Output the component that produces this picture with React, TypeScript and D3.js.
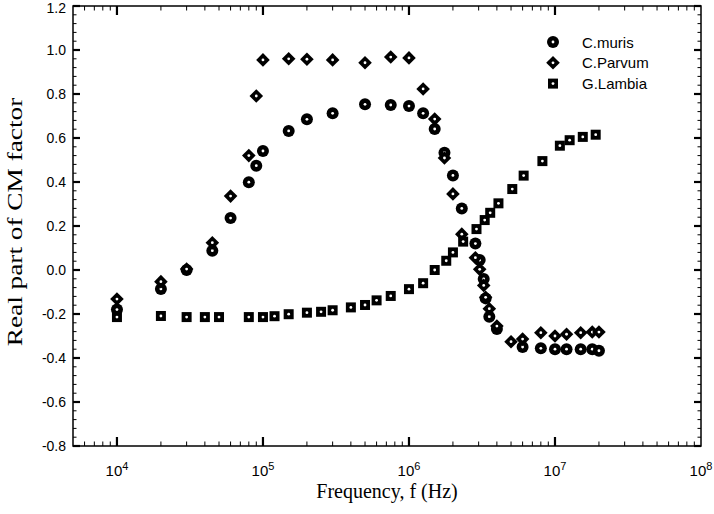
import React from "react";
import * as d3 from "d3";

const murisF = [1e4, 2e4, 3e4, 4.5e4, 6e4, 8e4, 9e4, 1e5, 1.5e5, 2e5, 3e5, 5e5, 7.5e5, 1e6, 1.25e6, 1.5e6, 1.75e6, 2e6, 2.3e6, 2.85e6, 3.05e6, 3.25e6, 3.35e6, 3.55e6, 4e6, 6e6, 8e6, 1e7, 1.2e7, 1.5e7, 1.8e7, 2e7];
const murisV = [-0.18, -0.086, 0.0, 0.088, 0.236, 0.399, 0.474, 0.541, 0.632, 0.685, 0.712, 0.753, 0.75, 0.745, 0.712, 0.641, 0.533, 0.43, 0.28, 0.12, 0.045, -0.041, -0.129, -0.212, -0.268, -0.35, -0.356, -0.36, -0.36, -0.36, -0.36, -0.367];

const parvumF = [1e4, 2e4, 3e4, 4.5e4, 6e4, 8e4, 9e4, 1e5, 1.5e5, 2e5, 3e5, 5e5, 7.5e5, 1e6, 1.25e6, 1.5e6, 1.75e6, 2e6, 2.3e6, 2.85e6, 3.05e6, 3.25e6, 3.35e6, 3.55e6, 4e6, 5e6, 6e6, 8e6, 1e7, 1.2e7, 1.5e7, 1.8e7, 2e7];
const parvumV = [-0.132, -0.053, 0.004, 0.124, 0.336, 0.52, 0.791, 0.955, 0.96, 0.958, 0.955, 0.942, 0.968, 0.964, 0.823, 0.686, 0.509, 0.346, 0.163, 0.056, 0.003, -0.07, -0.124, -0.176, -0.255, -0.326, -0.314, -0.285, -0.3, -0.292, -0.285, -0.282, -0.282];

const lambiaF = [1e4, 2e4, 3e4, 4e4, 5e4, 8e4, 1e5, 1.2e5, 1.5e5, 2e5, 2.5e5, 3e5, 4e5, 5e5, 6e5, 7.5e5, 1e6, 1.25e6, 1.5e6, 1.8e6, 2e6, 2.35e6, 2.9e6, 3.3e6, 3.6e6, 4.1e6, 5.1e6, 6.1e6, 8.2e6, 1.08e7, 1.26e7, 1.55e7, 1.9e7];
const lambiaV = [-0.214, -0.209, -0.214, -0.214, -0.214, -0.214, -0.214, -0.21, -0.201, -0.194, -0.19, -0.183, -0.17, -0.159, -0.138, -0.118, -0.087, -0.06, 0.0, 0.042, 0.08, 0.129, 0.186, 0.227, 0.26, 0.303, 0.368, 0.429, 0.495, 0.565, 0.59, 0.605, 0.615];

const seriesNames = ["C.muris", "C.Parvum", "G.Lambia"];
const yTicks = [1.2, 1.0, 0.8, 0.6, 0.4, 0.2, 0.0, -0.2, -0.4, -0.6, -0.8];
const xDecades = [4, 5, 6, 7, 8];

const W = 714, H = 514;
const L = 73, R = 701, T = 6, B = 446;

function Marker({ kind, x, y }: { kind: number; x: number; y: number }) {
  let shape: React.ReactNode;
  if (kind === 0) shape = <circle cx={x} cy={y} r={6} fill="#000" />;
  else if (kind === 1)
    shape = <path d={`M${x},${y - 6.8}L${x + 6.8},${y}L${x},${y + 6.8}L${x - 6.8},${y}Z`} fill="#000" />;
  else shape = <rect x={x - 5} y={y - 5} width={10} height={10} fill="#000" />;
  return (
    <g>
      {shape}
      <circle cx={x} cy={y} r={1.4} fill="#fff" />
    </g>
  );
}

export default function App() {
  const x = d3.scaleLog().domain([5000, 1e8]).range([L, R]);
  const y = d3.scaleLinear().domain([-0.8, 1.2]).range([B, T]);

  const minorX: number[] = [];
  for (let d = 3; d < 8; d++) {
    for (let k = 2; k <= 9; k++) {
      const v = k * Math.pow(10, d);
      if (v > 5000 && v < 1e8) minorX.push(v);
    }
  }
  const majorX = [1e4, 1e5, 1e6, 1e7];
  const minorY: number[] = d3.range(0, 51).map((i) => -0.8 + i * 0.04).filter((v, i) => i % 5 !== 0);

  const data = [
    { f: murisF, v: murisV },
    { f: parvumF, v: parvumV },
    { f: lambiaF, v: lambiaV },
  ];

  const sans = "Liberation Sans, Arial, sans-serif";
  const serif = "Liberation Serif, Times New Roman, serif";

  return (
    <svg width={W} height={H} style={{ position: "absolute", left: 0, top: 0, background: "#fff" }}>
      <rect x={0} y={0} width={W} height={H} fill="#fff" />
      {minorX.map((v, i) => (
        <g key={"mx" + i} stroke="#000" strokeWidth={1}>
          <line x1={x(v)} x2={x(v)} y1={B} y2={B - 4.5} />
          <line x1={x(v)} x2={x(v)} y1={T} y2={T + 4.5} />
        </g>
      ))}
      {majorX.map((v, i) => (
        <g key={"Mx" + i} stroke="#000" strokeWidth={2.2}>
          <line x1={x(v)} x2={x(v)} y1={B} y2={B - 9} />
          <line x1={x(v)} x2={x(v)} y1={T} y2={T + 9} />
        </g>
      ))}
      {minorY.map((v, i) => (
        <g key={"my" + i} stroke="#000" strokeWidth={1}>
          <line x1={L} x2={L + 3.5} y1={y(v)} y2={y(v)} />
          <line x1={R} x2={R - 3.5} y1={y(v)} y2={y(v)} />
        </g>
      ))}
      {yTicks.map((v, i) => (
        <g key={"My" + i} stroke="#000" strokeWidth={2.2}>
          <line x1={L} x2={L + 7} y1={y(v)} y2={y(v)} />
          <line x1={R} x2={R - 7} y1={y(v)} y2={y(v)} />
        </g>
      ))}
      <rect x={L} y={T} width={R - L} height={B - T} fill="none" stroke="#000" strokeWidth={1.5} />

      {yTicks.map((v, i) => (
        <text key={"yl" + i} x={66} y={Math.max(y(v) + 5, 12.5)} textAnchor="end" fontFamily={sans} fontSize={14} fill="#000">
          {v.toFixed(1)}
        </text>
      ))}
      {xDecades.map((d, i) => (
        <text key={"xl" + i} x={x(Math.pow(10, d))} y={476} textAnchor="middle" fontFamily={sans} fontSize={15} fill="#000">
          10<tspan fontSize={11} dy={-6}>{d}</tspan>
        </text>
      ))}

      <text x={(L + R) / 2} y={498} textAnchor="middle" fontFamily={serif} fontSize={20} fill="#000">
        Frequency, f (Hz)
      </text>
      <text
        transform={`translate(22,222) rotate(-90) scale(1.3,1)`}
        textAnchor="middle"
        fontFamily={serif}
        fontSize={21}
        fill="#000"
      >
        Real part of CM factor
      </text>

      {data.map((s, k) => (
        <g key={"s" + k}>
          {s.f.map((f, i) => (
            <Marker key={i} kind={k} x={x(f)} y={y(s.v[i])} />
          ))}
        </g>
      ))}

      {seriesNames.map((n, i) => (
        <g key={"lg" + i}>
          <Marker kind={i} x={553} y={42 + i * 20.8} />
          <text x={582} y={42 + i * 20.8 + 5.5} fontFamily={sans} fontSize={15} fill="#000">
            {n}
          </text>
        </g>
      ))}
    </svg>
  );
}
